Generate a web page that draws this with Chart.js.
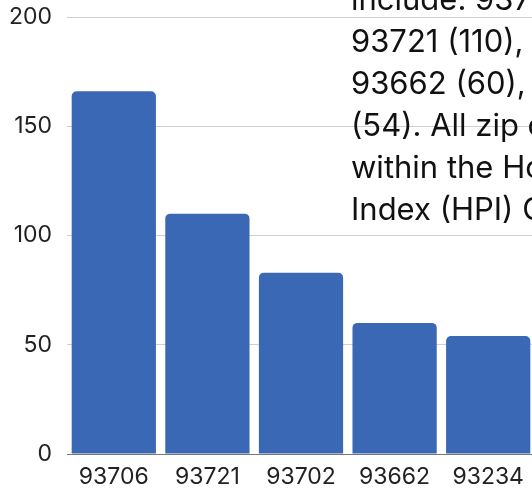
<!DOCTYPE html>
<html>
<head>
<meta charset="utf-8">
<script src="https://cdn.jsdelivr.net/npm/chart.js@4/dist/chart.umd.min.js"></script>
<style>
  html, body { margin: 0; padding: 0; background: #fff; overflow: hidden; width: 532px; height: 495px; }
  #wrap { position: relative; width: 532px; height: 495px; overflow: hidden; }
  #chart { position: absolute; left: 0; top: 0; }
  #note {
    position: absolute; left: 351px; top: -22px;
    font-family: Inter, "Open Sans", sans-serif; font-size: 31px; line-height: 42px;
    color: #111; white-space: nowrap;
  }
</style>
</head>
<body>
<div id="wrap">
  <canvas id="chart" width="535" height="495"></canvas>
  <div id="note"></div>
</div>
<script>
// Zip codes and their counts
const zipCodes = ["93706", "93721", "93702", "93662", "93234"];
const counts = [166, 110, 83, 60, 54];
const yTicks = [0, 50, 100, 150, 200];

// Caption text built from the same numbers
const lines = [
  `include: ${zipCodes[0]} (${counts[0]}),`,
  `${zipCodes[1]} (${counts[1]}), ${zipCodes[2]} (${counts[2]}),`,
  `${zipCodes[3]} (${counts[3]}), and ${zipCodes[4]}`,
  `(${counts[4]}). All zip codes are`,
  `within the Home Price`,
  `Index (HPI) Coverage.`
];
document.getElementById('note').innerHTML = lines.join('<br>');

const FONT = 'Inter, "Open Sans", sans-serif';

new Chart(document.getElementById('chart'), {
  type: 'bar',
  data: {
    labels: zipCodes,
    datasets: [{
      data: counts,
      backgroundColor: '#3B68B5',
      borderRadius: 5,
      borderSkipped: 'start',
      categoryPercentage: 0.9,
      barPercentage: 1
    }]
  },
  options: {
    responsive: false,
    animation: false,
    layout: { padding: { top: 17, right: 0, left: 0, bottom: 0 } },
    plugins: { legend: { display: false }, tooltip: { enabled: false } },
    scales: {
      x: {
        grid: { display: false, drawTicks: false },
        border: { display: true, color: '#777', width: 1 },
        ticks: { color: '#222', font: { family: FONT, size: 23 }, padding: 9 },
        afterFit: s => { s.height = 41; s.paddingLeft = 0; s.paddingRight = 0; }
      },
      y: {
        min: 0, max: 200,
        afterBuildTicks: s => { s.ticks = yTicks.map(v => ({ value: v })); },
        grid: { color: '#cfcfcf', drawTicks: false },
        border: { display: false },
        ticks: { color: '#222', font: { family: FONT, size: 23 }, padding: 15 },
        afterFit: s => { s.width = 67; s.paddingTop = 0; s.paddingBottom = 0; }
      }
    }
  }
});
</script>
</body>
</html>
